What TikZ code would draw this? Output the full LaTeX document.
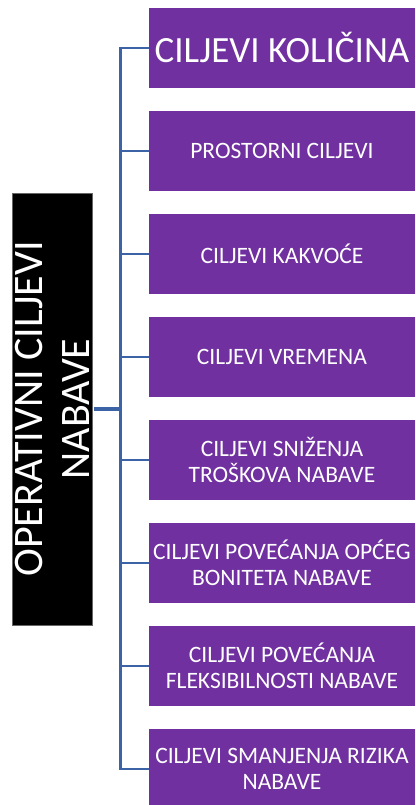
\documentclass[tikz,border=0pt]{standalone}
\usepackage{fontspec}
\setmainfont{Carlito}
\definecolor{boxpurple}{HTML}{7030A0}
\definecolor{connblue}{HTML}{3B63A5}
\begin{document}
\begin{tikzpicture}[x=1pt,y=-1pt,
  goal/.style={fill=boxpurple, draw=none, text=white, minimum width=266.5pt, minimum height=79.5pt,
    inner sep=0pt, align=center, font=\fontsize{23.5}{26}\selectfont},
  conn/.style={draw=connblue, line width=2.2pt},
  mainbox/.style={fill=black, draw=black!60, line width=0.8pt, text=white, rotate=90,
    minimum width=432pt, minimum height=80pt, inner sep=0pt, align=center,
    font=\fontsize{42}{47}\selectfont}]
\useasboundingbox (0,0) rectangle (415,805);
\node[goal, anchor=north west, font=\fontsize{37}{44}\selectfont] (b1) at (148.5,8) {CILJEVI KOLIČINA};
\node[goal, anchor=north west] (b2) at (148.5,111) {PROSTORNI CILJEVI};
\node[goal, anchor=north west] (b3) at (148.5,214) {CILJEVI KAKVOĆE};
\node[goal, anchor=north west] (b4) at (148.5,317) {CILJEVI VREMENA};
\node[goal, anchor=north west] (b5) at (148.5,420) {CILJEVI SNIŽENJA\\TROŠKOVA NABAVE};
\node[goal, anchor=north west] (b6) at (148.5,523) {CILJEVI POVEĆANJA OPĆEG\\BONITETA NABAVE};
\node[goal, anchor=north west] (b7) at (148.5,626) {CILJEVI POVEĆANJA\\FLEKSIBILNOSTI NABAVE};
\node[goal, anchor=north west] (b8) at (148.5,729) {CILJEVI SMANJENJA RIZIKA\\NABAVE};
\node[mainbox] (m) at (52,409) {OPERATIVNI CILJEVI\\NABAVE};
\coordinate (sp) at (120.5,409);
\draw[conn] (b1.west) -- (b1.west -| sp) -- (b8.west -| sp) -- (b8.west);
\foreach \i in {2,...,7} { \draw[conn] (b\i.west) -- (b\i.west -| sp); }
\draw[draw=connblue, line width=4pt] ([xshift=2pt]m.south) -- (sp);
\end{tikzpicture}
\end{document}
